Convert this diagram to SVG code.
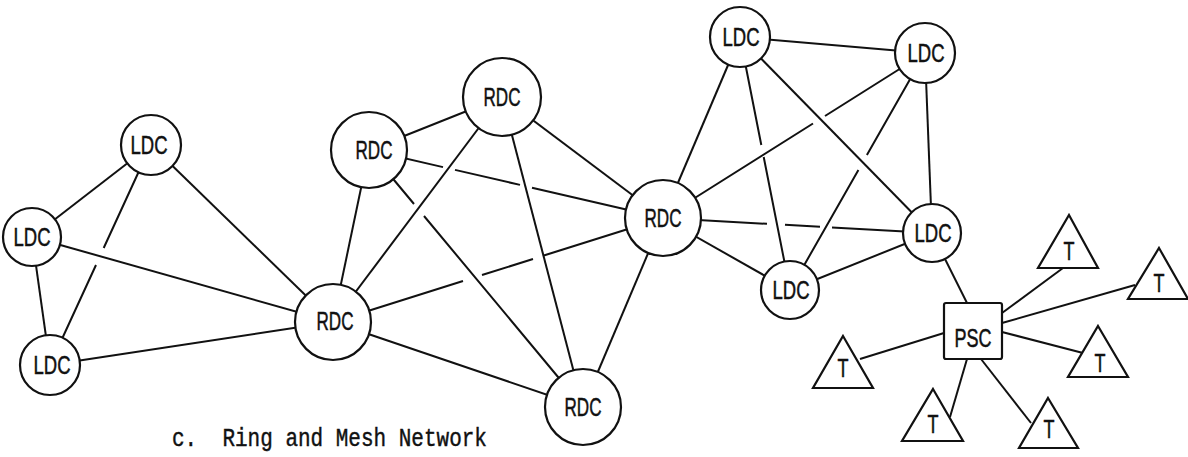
<svg xmlns="http://www.w3.org/2000/svg" width="1188" height="457" viewBox="0 0 1188 457">
<style>
.n{fill:#fff;stroke:#111;stroke-width:2.2}
.e{fill:none;stroke:#111;stroke-width:2}
.l{font-family:"Liberation Sans Narrow","Liberation Sans",Arial,sans-serif;font-size:25px;fill:#111;stroke:#111;stroke-width:0.5;text-anchor:middle}
.cap{font-family:"Liberation Mono","Courier New",monospace;font-size:21px;fill:#111;stroke:#111;stroke-width:0.35}
</style>
<rect width="1188" height="457" fill="#fff"/>
<g id="connectors" class="e">
<path d="M151,145 L32,237"/>
<path d="M151,145 L103.7,248 M96,265 L50,365"/>
<path d="M151,145 L333,322"/>
<path d="M32,237 L50,365"/>
<path d="M32,237 L333,322"/>
<path d="M50,365 L333,322"/>
<path d="M333,322 L369,150"/>
<path d="M333,322 L502,97"/>
<path d="M333,322 L463,281 M482,275 L533,259 M543,255.8 L663,218"/>
<path d="M333,322 L583,407"/>
<path d="M369,150 L502,97"/>
<path d="M369,150 L443,167.1 M455,169.9 L520,184.9 M532,187.7 L663,218"/>
<path d="M369,150 L414,204 M424,216 L583,407"/>
<path d="M502,97 L663,218"/>
<path d="M502,97 L583,407"/>
<path d="M663,218 L583,407"/>
<path d="M663,218 L740,37"/>
<path d="M663,218 L813,123.5 M825,116 L925,53"/>
<path d="M663,218 L767,223.8 M785,224.8 L820,226.8 M832,227.4 L932,233"/>
<path d="M663,218 L790,290"/>
<path d="M740,37 L925,53"/>
<path d="M740,37 L761.3,145 M763.7,157 L790,290"/>
<path d="M740,37 L932,233"/>
<path d="M925,53 L866.9,155 M858.4,170 L790,290"/>
<path d="M925,53 L932,233"/>
<path d="M790,290 L932,233"/>
<path d="M932,233 L967,303"/>
<path d="M1002,313 L1063,268"/>
<path d="M1002,323 L1135,285"/>
<path d="M1002,332 L1083,353"/>
<path d="M981,359 L1031,423"/>
<path d="M967,359 L950,417"/>
<path d="M944,333 L860,359"/>
</g>
<g id="ldc-tl"><circle class="n" cx="151" cy="145" r="30"/><text class="l" x="149" y="154" textLength="37" lengthAdjust="spacingAndGlyphs">LDC</text></g>
<g id="ldc-l"><circle class="n" cx="32" cy="237" r="29"/><text class="l" x="32" y="246" textLength="37" lengthAdjust="spacingAndGlyphs">LDC</text></g>
<g id="ldc-bl"><circle class="n" cx="50" cy="365" r="30"/><text class="l" x="52" y="374" textLength="37" lengthAdjust="spacingAndGlyphs">LDC</text></g>
<g id="rdc-l"><circle class="n" cx="333" cy="322" r="38"/><text class="l" x="335" y="330" textLength="37" lengthAdjust="spacingAndGlyphs">RDC</text></g>
<g id="rdc-top"><circle class="n" cx="369" cy="150" r="38"/><text class="l" x="374" y="159" textLength="37" lengthAdjust="spacingAndGlyphs">RDC</text></g>
<g id="rdc-tc"><circle class="n" cx="502" cy="97" r="39"/><text class="l" x="502" y="106" textLength="37" lengthAdjust="spacingAndGlyphs">RDC</text></g>
<g id="rdc-rc"><circle class="n" cx="663" cy="218" r="38"/><text class="l" x="663" y="227" textLength="37" lengthAdjust="spacingAndGlyphs">RDC</text></g>
<g id="rdc-b"><circle class="n" cx="583" cy="407" r="38"/><text class="l" x="583" y="416" textLength="37" lengthAdjust="spacingAndGlyphs">RDC</text></g>
<g id="ldc-t"><circle class="n" cx="740" cy="37" r="30"/><text class="l" x="741" y="46" textLength="37" lengthAdjust="spacingAndGlyphs">LDC</text></g>
<g id="ldc-tr"><circle class="n" cx="925" cy="53" r="30"/><text class="l" x="926" y="62" textLength="37" lengthAdjust="spacingAndGlyphs">LDC</text></g>
<g id="ldc-r"><circle class="n" cx="932" cy="233" r="29"/><text class="l" x="933" y="242" textLength="37" lengthAdjust="spacingAndGlyphs">LDC</text></g>
<g id="ldc-b"><circle class="n" cx="790" cy="290" r="29"/><text class="l" x="791" y="299" textLength="37" lengthAdjust="spacingAndGlyphs">LDC</text></g>
<g id="psc"><rect class="n" x="944" y="303" width="58" height="56" rx="2"/><text class="l" x="973" y="347" textLength="37" lengthAdjust="spacingAndGlyphs">PSC</text></g>
<g id="t1"><polygon class="n" points="1069,215 1098,268 1038,268"/><text class="l" x="1069" y="260" textLength="11" lengthAdjust="spacingAndGlyphs">T</text></g>
<g id="t2"><polygon class="n" points="1159,248 1188,299 1128,299"/><text class="l" x="1159" y="292" textLength="11" lengthAdjust="spacingAndGlyphs">T</text></g>
<g id="t3"><polygon class="n" points="1098,326 1128,377 1068,377"/><text class="l" x="1100" y="372" textLength="11" lengthAdjust="spacingAndGlyphs">T</text></g>
<g id="t4"><polygon class="n" points="1048,398 1078,448 1019,448"/><text class="l" x="1049" y="438" textLength="11" lengthAdjust="spacingAndGlyphs">T</text></g>
<g id="t5"><polygon class="n" points="933,389 963,441 902,441"/><text class="l" x="933" y="433" textLength="11" lengthAdjust="spacingAndGlyphs">T</text></g>
<g id="t6"><polygon class="n" points="843,336 873,388 813,388"/><text class="l" x="843" y="377" textLength="11" lengthAdjust="spacingAndGlyphs">T</text></g>
<text class="cap" transform="translate(172,446) scale(1,1.2)" x="0" y="0" xml:space="preserve">c.  Ring and Mesh Network</text>
</svg>
